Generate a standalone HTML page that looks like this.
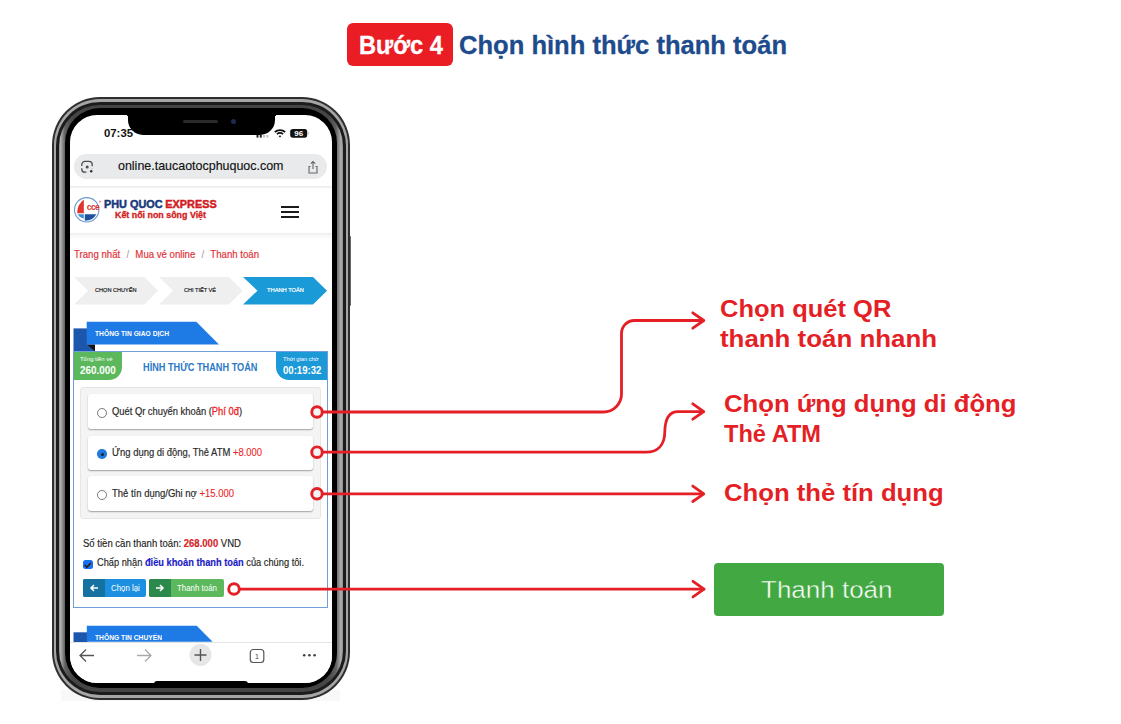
<!DOCTYPE html>
<html><head><meta charset="utf-8">
<style>
*{margin:0;padding:0;box-sizing:border-box}
html,body{width:1121px;height:724px;overflow:hidden;background:#fff;font-family:"Liberation Sans", sans-serif}
.a{position:absolute}
.t{position:absolute;white-space:nowrap;line-height:1;transform-origin:0 0}
</style></head><body>
<!-- title -->
<div class="a" style="left:347px;top:23px;width:106px;height:43px;background:#ea1d25;border-radius:6px"></div>

<!-- phone frame -->
<div class="a" style="left:61px;top:690px;width:279px;height:10.5px;background:#f8f8f8"></div>
<div class="a" style="left:52px;top:97px;width:298px;height:602.5px;border-radius:48px;background:#2e2e2e"></div>
<div class="a" style="left:54px;top:99px;width:294px;height:599.3px;border-radius:46px;background:#a8a5a9"></div>
<div class="a" style="left:56.2px;top:101.5px;width:289.6px;height:593.5px;border-radius:44px;background:#1c1c1c"></div>
<div class="a" style="left:59.3px;top:104.8px;width:283.4px;height:587.5px;border-radius:41px;background:linear-gradient(90deg,#8a8a8a,#b0b0b0 1.5px,#606060 6px,#454545 14px,#454545 269px,#606060 277px,#b0b0b0 282px,#8a8a8a)"></div>
<div class="a" style="left:65px;top:108px;width:272px;height:579.5px;border-radius:35px;background:#000"></div>
<!-- side buttons -->
<div class="a" style="left:349.5px;top:236px;width:1.5px;height:70px;background:#666;border-radius:0 1px 1px 0"></div>

<!-- screen -->
<div class="a" id="scr" style="left:70px;top:114.5px;width:262px;height:568.5px;border-radius:27px;background:#fff;overflow:hidden">
<div class="a" style="left:-70px;top:-114.5px;width:1121px;height:724px">

<!-- notch -->
<div class="a" style="left:128px;top:110px;width:147px;height:25.2px;background:#000;border-radius:0 0 15px 15px"></div>
<div class="a" style="left:123.5px;top:114.5px;width:4.6px;height:4.6px;background:radial-gradient(circle at 0 100%,transparent 4.5px,#000 4.6px)"></div>
<div class="a" style="left:274.9px;top:114.5px;width:4.6px;height:4.6px;background:radial-gradient(circle at 100% 100%,transparent 4.5px,#000 4.6px)"></div>
<div class="a" style="left:183px;top:120px;width:35px;height:3px;background:#2a2a2a;border-radius:2px"></div>
<div class="a" style="left:230.5px;top:118.5px;width:5px;height:5px;background:#1b2c4f;border-radius:50%"></div>

<!-- status icons -->
<svg class="a" style="left:255px;top:127px" width="60" height="12" viewBox="0 0 60 12">
  <rect x="1.5" y="8" width="2" height="2.6" fill="#222"/>
  <rect x="4.8" y="8" width="2" height="2.6" fill="#222"/>
  <rect x="8.1" y="8" width="2" height="2.6" fill="#c4c4c4"/>
  <rect x="11.4" y="8" width="2" height="2.6" fill="#c4c4c4"/>
  <path d="M19.8 5.0 A 8 8 0 0 1 30.2 5.0" stroke="#111" stroke-width="1.7" fill="none"/>
  <path d="M21.9 7.2 A 5 5 0 0 1 28.1 7.2" stroke="#111" stroke-width="1.7" fill="none"/>
  <path d="M23.6 9.1 L25 10.5 L26.4 9.1 A 2 2 0 0 0 23.6 9.1Z" fill="#111"/>
  <rect x="35.2" y="2" width="17" height="8.7" rx="2.6" fill="#111"/>
  <rect x="53" y="4.8" width="0.9" height="3" rx="0.45" fill="#ccc"/>
  <text x="43.7" y="9.3" font-family="Liberation Sans" font-weight="700" font-size="8" fill="#fff" text-anchor="middle">96</text>
</svg>

<!-- url bar -->
<div class="a" style="left:74px;top:154px;width:252.5px;height:24.7px;background:#e8eaeb;border-radius:12.4px"></div>
<svg class="a" style="left:80px;top:160px" width="15" height="14" viewBox="0 0 15 14">
  <path d="M1.8 6 V4.6 A3.2 3.2 0 0 1 5 1.4 H9 A3.2 3.2 0 0 1 12.2 4.6 V6.2 M1.8 8.2 V9.2 A3 3 0 0 0 4.8 12.2 H6.4 M12.2 8.2 V8.6" stroke="#4a4d50" stroke-width="1.3" fill="none"/>
  <circle cx="7.2" cy="6.9" r="1.5" fill="#4a4d50"/>
  <circle cx="11.2" cy="11.2" r="1.2" fill="#2a2d30"/>
</svg>
<svg class="a" style="left:306px;top:160px" width="14" height="15" viewBox="0 0 14 15">
  <path d="M4.5 6.5 H3 V13 H11 V6.5 H9.5" stroke="#666" stroke-width="1.1" fill="none"/>
  <path d="M7 9 V1.5 M4.8 3.7 L7 1.5 L9.2 3.7" stroke="#666" stroke-width="1.1" fill="none"/>
</svg>
<div class="a" style="left:70px;top:186px;width:262px;height:2.5px;background:linear-gradient(#e8e8e8,#fff)"></div>

<!-- logo -->
<svg class="a" style="left:73px;top:196px" width="30" height="28" viewBox="0 0 30 28">
  <circle cx="13.7" cy="13.8" r="12.2" fill="#fff" stroke="#6a98cc" stroke-width="1.1"/>
  <path d="M10.8 3.6 Q4 9 4.2 17.2 L10.8 17.2 Z" fill="#e0342e"/>
  <path d="M4.6 18.3 L10.8 18.3 L10.8 22.8 Q6.5 21.8 4.6 18.3Z" fill="#3d8fd6"/>
  <path d="M11.8 18.3 L23.3 18.3 Q20.5 24.3 11.8 24.8 Z" fill="#1d4f9f"/>
  <text x="20" y="14.2" font-family="Liberation Sans" font-weight="700" font-size="8.5" fill="#d9342e" text-anchor="middle" letter-spacing="-0.6">cce</text>
  <circle cx="27" cy="5.6" r="1.2" fill="#f0a0a0"/>
</svg>
<!-- hamburger -->
<div class="a" style="left:281px;top:206px;width:18px;height:2px;background:#1a1a1a"></div>
<div class="a" style="left:281px;top:211px;width:18px;height:2px;background:#1a1a1a"></div>
<div class="a" style="left:281px;top:216px;width:18px;height:2px;background:#1a1a1a"></div>
<div class="a" style="left:70px;top:233px;width:262px;height:7px;background:linear-gradient(#ececec,#f6f6f6 30%,#fff)"></div>

<!-- steps -->
<svg class="a" style="left:0;top:0" width="340" height="360">
  <polygon points="74,277 144.5,277 158,290.7 144.5,304.4 74,304.4 88,290.7" fill="#efefef"/>
  <polygon points="159,277 229,277 242.5,290.7 229,304.4 159,304.4 173,290.7" fill="#efefef"/>
  <polygon points="243,277 313,277 327,290.7 313,304.4 243,304.4 257.5,290.7" fill="#1a9ad6"/>
  <!-- tab -->
  <rect x="73.5" y="328.4" width="14" height="23" fill="#1d57ad"/>
  <polygon points="87,344.6 95,344.6 95,351.5 87,351.5" fill="#1d57ad"/>
  <polygon points="87,344.6 95,344.6 95,351.5" fill="#1a1410"/>
  <polygon points="86.7,321.7 196.3,321.7 219,344.6 86.7,344.6" fill="#1e7be6"/>
</svg>

<!-- card -->
<div class="a" style="left:73px;top:351px;width:255px;height:256.5px;border:1px solid #6f9fd6"></div>
<div class="a" style="left:73.5px;top:351.5px;width:48.7px;height:28.6px;background:#5cb85c;border-bottom-right-radius:13px"></div>
<div class="a" style="left:276.3px;top:351.5px;width:51.2px;height:28.6px;background:#1b9ad7;border-bottom-left-radius:13px"></div>
<div class="a" style="left:80px;top:386.5px;width:241px;height:132.8px;background:#f4f4f4;border:1px solid #e6e6e6;border-radius:3px"></div>
<div class="a" style="left:88px;top:394px;width:225.1px;height:35.4px;background:#fff;border-radius:3px;box-shadow:0 1px 1.5px rgba(0,0,0,.35)"></div>
<div class="a" style="left:88px;top:435.6px;width:225.1px;height:34.5px;background:#fff;border-radius:3px;box-shadow:0 1px 1.5px rgba(0,0,0,.35)"></div>
<div class="a" style="left:88px;top:476.2px;width:225.1px;height:34.7px;background:#fff;border-radius:3px;box-shadow:0 1px 1.5px rgba(0,0,0,.35)"></div>
<div class="a" style="left:97.4px;top:408.3px;width:9.8px;height:9.8px;border:1px solid #777;border-radius:50%;background:#fff"></div>
<div class="a" style="left:97.4px;top:449.2px;width:9.6px;height:9.6px;border-radius:50%;background:#1f7ae0"></div>
<div class="a" style="left:100.7px;top:452.5px;width:3px;height:3px;border-radius:50%;background:#222"></div>
<div class="a" style="left:97.4px;top:490.3px;width:9.8px;height:9.8px;border:1px solid #777;border-radius:50%;background:#fff"></div>

<!-- checkbox -->
<div class="a" style="left:83px;top:559.5px;width:9.7px;height:9.6px;background:#1570ee;border-radius:2.5px"></div>
<svg class="a" style="left:83px;top:559.5px" width="10" height="10" viewBox="0 0 10 10"><path d="M1.8 5 L3.9 7.1 L7.8 3" stroke="#3a1608" stroke-width="1.5" fill="none"/></svg>

<!-- buttons -->
<div class="a" style="left:83px;top:578.5px;width:63.3px;height:18.8px;background:#1c8fe0;border-radius:2px"></div>
<div class="a" style="left:83px;top:578.5px;width:21.6px;height:18.8px;background:#15719f;border-radius:2px 0 0 2px"></div>
<div class="a" style="left:149.4px;top:578.5px;width:74.4px;height:18.8px;background:#5cb85c;border-radius:2px"></div>
<div class="a" style="left:149.4px;top:578.5px;width:21.4px;height:18.8px;background:#2b8a4b;border-radius:2px 0 0 2px"></div>
<svg class="a" style="left:88px;top:583px" width="12" height="10" viewBox="0 0 12 10"><path d="M10 5 H3 M6 2 L3 5 L6 8" stroke="#fff" stroke-width="1.6" fill="none"/></svg>
<svg class="a" style="left:154px;top:583px" width="12" height="10" viewBox="0 0 12 10"><path d="M2 5 H9 M6 2 L9 5 L6 8" stroke="#fff" stroke-width="1.6" fill="none"/></svg>

<!-- bottom tab -->
<svg class="a" style="left:0;top:0" width="340" height="660">
  <rect x="73.5" y="632.3" width="14" height="10" fill="#1d57ad"/>
  <polygon points="86.8,625.7 196.7,625.7 212.6,641.8 86.8,641.8" fill="#1e7be6"/>
</svg>

<div class="t" id="t2" style="left:104px;top:128.39px;font-size:11px;font-weight:700;color:#111;transform:scaleX(1.0305);">07:35</div>
<div class="t" id="t3" style="left:117.5px;top:159.20px;font-size:13px;font-weight:400;color:#111;transform:scaleX(0.9581);-webkit-text-stroke:0.15px #111">online.taucaotocphuquoc.com</div>
<div class="t" id="t4" style="left:104.3px;top:198.71px;font-size:11.8px;font-weight:700;color:#16387c;transform:scaleX(0.9214);"><span style="color:#16387c;-webkit-text-stroke:0.5px #16387c">PHU QUOC</span><span style="margin-left:3px;color:#d21c22;-webkit-text-stroke:0.5px #d21c22">EXPRESS</span></div>
<div class="t" id="t5" style="left:114.6px;top:211.17px;font-size:8.3px;font-weight:700;color:#d21c22;transform:scaleX(1.0690);-webkit-text-stroke:0.3px #d21c22">Kết nối non sông Việt</div>
<div class="t" id="t6" style="left:73.9px;top:249.26px;font-size:10.8px;font-weight:400;color:#e0343a;transform:scaleX(0.8916);-webkit-text-stroke:0.2px #e0343a">Trang nhất <span style="color:#999;margin:0 4px;-webkit-text-stroke:0">/</span> Mua vé online <span style="color:#999;margin:0 4px;-webkit-text-stroke:0">/</span> Thanh toán</div>
<div class="t" id="t7" style="left:95px;top:287.05px;font-size:6.2px;font-weight:400;color:#1a1a1a;transform:scaleX(0.9006);-webkit-text-stroke:0.2px #1a1a1a">CHỌN CHUYẾN</div>
<div class="t" id="t8" style="left:184px;top:287.05px;font-size:6.2px;font-weight:400;color:#1a1a1a;transform:scaleX(0.9006);-webkit-text-stroke:0.2px #1a1a1a">CHI TIẾT VÉ</div>
<div class="t" id="t9" style="left:266.8px;top:287.05px;font-size:6.2px;font-weight:400;color:#fff;transform:scaleX(0.9250);-webkit-text-stroke:0.2px #fff">THANH TOÁN</div>
<div class="t" id="t10" style="left:95px;top:329.65px;font-size:7.5px;font-weight:700;color:#fff;transform:scaleX(0.8924);">THÔNG TIN GIAO DỊCH</div>
<div class="t" id="t11" style="left:80.3px;top:355.72px;font-size:6px;font-weight:400;color:#fff;transform:scaleX(0.9839);">Tổng tiền vé</div>
<div class="t" id="t12" style="left:80px;top:365.83px;font-size:10px;font-weight:700;color:#fff;transform:scaleX(0.9874);">260.000</div>
<div class="t" id="t13" style="left:143px;top:361.91px;font-size:10.5px;font-weight:700;color:#2b79c6;transform:scaleX(0.8739);">HÌNH THỨC THANH TOÁN</div>
<div class="t" id="t14" style="left:283px;top:355.72px;font-size:6px;font-weight:400;color:#fff;transform:scaleX(0.9538);">Thời gian chờ</div>
<div class="t" id="t15" style="left:283px;top:365.83px;font-size:10px;font-weight:700;color:#fff;transform:scaleX(0.9593);">00:19:32</div>
<div class="t" id="t16" style="left:111.8px;top:406.19px;font-size:11px;font-weight:400;color:#2a2a2a;transform:scaleX(0.8503);-webkit-text-stroke:0.2px #2a2a2a">Quét Qr chuyển khoản (<span style="color:#ee1c25;-webkit-text-stroke:0.3px #ee1c25">Phí 0đ</span>)</div>
<div class="t" id="t17" style="left:111.8px;top:447.19px;font-size:11px;font-weight:400;color:#2a2a2a;transform:scaleX(0.8570);-webkit-text-stroke:0.2px #2a2a2a">Ứng dụng di động, Thẻ ATM <span style="color:#ee1c25;-webkit-text-stroke:0.1px #ee1c25">+8.000</span></div>
<div class="t" id="t18" style="left:111.8px;top:488.19px;font-size:11px;font-weight:400;color:#2a2a2a;transform:scaleX(0.8624);-webkit-text-stroke:0.2px #2a2a2a">Thẻ tín dụng/Ghi nợ <span style="color:#ee1c25;-webkit-text-stroke:0.1px #ee1c25">+15.000</span></div>
<div class="t" id="t19" style="left:83px;top:538.26px;font-size:10.8px;font-weight:400;color:#222;transform:scaleX(0.8832);-webkit-text-stroke:0.15px #222">Số tiền cần thanh toán: <b style="color:#ee1c25">268.000</b> VND</div>
<div class="t" id="t20" style="left:97.4px;top:556.86px;font-size:10.8px;font-weight:400;color:#222;transform:scaleX(0.8580);-webkit-text-stroke:0.15px #222">Chấp nhận <b style="color:#1a1ae0">điều khoản thanh toán</b> của chúng tôi.</div>
<div class="t" id="t21" style="left:110.5px;top:583.88px;font-size:9px;font-weight:400;color:#fff;transform:scaleX(0.8719);">Chọn lại</div>
<div class="t" id="t22" style="left:177px;top:583.88px;font-size:9px;font-weight:400;color:#fff;transform:scaleX(0.8782);">Thanh toán</div>
<div class="t" id="t23" style="left:95px;top:633.65px;font-size:7.5px;font-weight:700;color:#fff;transform:scaleX(0.8933);">THÔNG TIN CHUYẾN</div>

<!-- toolbar -->
<div class="a" style="left:70px;top:642.3px;width:262px;height:45px;background:#fff;border-top:1px solid #e4e4e4"></div>
<svg class="a" style="left:70px;top:642px" width="262" height="42" viewBox="0 0 262 42">
  <path d="M10 13.5 H24 M16 7.5 L10 13.5 L16 19.5" stroke="#555" stroke-width="1.3" fill="none"/>
  <path d="M67 13.5 H81 M75 7.5 L81 13.5 L75 19.5" stroke="#aaa" stroke-width="1.3" fill="none"/>
  <circle cx="130.5" cy="13" r="11" fill="#e6e6e6"/>
  <path d="M124.5 13 H136.5 M130.5 7 V19" stroke="#555" stroke-width="1.4" fill="none"/>
  <rect x="180.3" y="7.5" width="13.5" height="13" rx="3" stroke="#555" stroke-width="1.2" fill="none"/>
  <text x="187" y="17" font-family="Liberation Sans" font-size="7" fill="#444" text-anchor="middle">1</text>
  <circle cx="234.2" cy="13.2" r="1.3" fill="#444"/>
  <circle cx="239.4" cy="13.2" r="1.3" fill="#444"/>
  <circle cx="244.6" cy="13.2" r="1.3" fill="#444"/>
</svg>
<div class="a" style="left:153.5px;top:681px;width:94px;height:8px;background:#000;border-radius:3px"></div>

</div></div>

<!-- annotations -->
<svg class="a" style="left:0;top:0" width="1121" height="724">
  <g stroke="#e41f26" stroke-width="2.8" fill="none" stroke-linecap="round" stroke-linejoin="round">
    <path d="M322.3 412 H603.5 A18 18 0 0 0 621.5 394 V333.5 A13 13 0 0 1 634.5 320.5 H703"/>
    <path d="M692.8 312.8 L703.8 320.5 L692.8 328.2"/>
    <path d="M322.3 452.2 H646 C657 452.2 664.6 446 664.8 432 C665 418.5 669 411.6 678 411.6 H703"/>
    <path d="M692.8 403.8 L703.8 411.6 L692.8 419.2"/>
    <path d="M322.3 493.8 H703"/>
    <path d="M692.8 486.1 L703.8 493.8 L692.8 501.5"/>
    <path d="M239.3 589.1 H704"/>
    <path d="M693 581.3 L704 589.1 L693 596.9"/>
    <circle cx="317" cy="412" r="5.3" stroke-width="2.9"/>
    <circle cx="317" cy="452.2" r="5.3" stroke-width="2.9"/>
    <circle cx="317" cy="493.8" r="5.3" stroke-width="2.9"/>
    <circle cx="234" cy="589" r="5.3" stroke-width="2.9"/>
  </g>
</svg>
<div class="a" style="left:714.2px;top:563px;width:229.8px;height:52.7px;background:#42a942;border-radius:4px"></div>

<div class="t" id="t0" style="left:359px;top:32.84px;font-size:25px;font-weight:700;color:#fff;transform:scaleX(0.9471);-webkit-text-stroke:0.3px #fff">Bước 4</div>
<div class="t" id="t1" style="left:459px;top:32.84px;font-size:25px;font-weight:700;color:#1d4b8c;transform:scaleX(1.0224);-webkit-text-stroke:0.3px #1d4b8c">Chọn hình thức thanh toán</div>
<div class="t" id="t24" style="left:720px;top:297.83px;font-size:23px;font-weight:700;color:#e41f26;transform:scaleX(1.1081);">Chọn quét QR</div>
<div class="t" id="t25" style="left:720px;top:327.73px;font-size:23px;font-weight:700;color:#e41f26;transform:scaleX(1.1248);">thanh toán nhanh</div>
<div class="t" id="t26" style="left:724px;top:392.83px;font-size:23px;font-weight:700;color:#e41f26;transform:scaleX(1.1168);">Chọn ứng dụng di động</div>
<div class="t" id="t27" style="left:724px;top:422.83px;font-size:23px;font-weight:700;color:#e41f26;transform:scaleX(1.0259);">Thẻ ATM</div>
<div class="t" id="t28" style="left:724px;top:482.33px;font-size:23px;font-weight:700;color:#e41f26;transform:scaleX(1.1167);">Chọn thẻ tín dụng</div>
<div class="t" id="t29" style="left:761px;top:578.38px;font-size:24px;font-weight:400;color:#fff;transform:scaleX(1.0829);-webkit-text-stroke:0.45px #42a942">Thanh toán</div>

</body></html>
